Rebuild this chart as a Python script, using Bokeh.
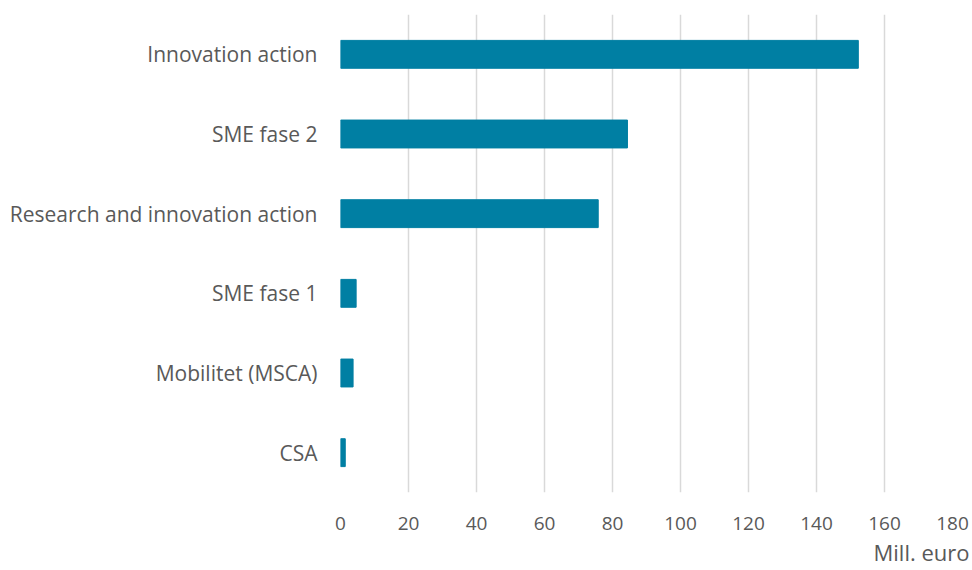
from bokeh.plotting import figure
from bokeh.models import FactorRange, Range1d, Title, FixedTicker
from bokeh.embed import file_html
from bokeh.resources import INLINE

# Data (top-to-bottom order as in the chart)
categories = ["Innovation action", "SME fase 2", "Research and innovation action",
              "SME fase 1", "Mobilitet (MSCA)", "CSA"]
values = [152.3, 84.4, 75.8, 4.6, 3.7, 1.4]
x_ticks = [0, 20, 40, 60, 80, 100, 120, 140, 160, 180]
x_unit_label = "Mill. euro"

FONT = "Open Sans"
TEXT_COLOR = "#595959"
BAR_COLOR = "#007FA3"

factors = list(reversed(categories))

p = figure(width=972, height=570, output_backend="svg", toolbar_location=None,
           y_range=FactorRange(factors=factors, range_padding=0),
           x_range=Range1d(0, 180),
           min_border_left=340, min_border_right=20,
           min_border_top=14, min_border_bottom=78)

p.hbar(y=categories, right=values, left=0, height=0.35, color=BAR_COLOR)

p.outline_line_color = None
p.background_fill_color = "white"
p.border_fill_color = "white"

p.ygrid.grid_line_color = None
p.xgrid.grid_line_color = "#d9d9d9"
p.xgrid.grid_line_width = 1.5
p.xaxis.ticker = FixedTicker(ticks=x_ticks)

for ax in (p.xaxis[0], p.yaxis[0]):
    ax.axis_line_color = None
    ax.major_tick_line_color = None
    ax.minor_tick_line_color = None
    ax.major_label_text_font = FONT
    ax.major_label_text_color = TEXT_COLOR

p.yaxis.major_label_text_font_size = "21px"
p.xaxis.major_label_text_font_size = "19px"
p.yaxis.major_label_standoff = 17
p.xaxis.major_label_standoff = 18

p.add_layout(Title(text=x_unit_label, align="right", offset=-17, standoff=4,
                   text_font=FONT, text_font_size="22px", text_font_style="normal",
                   text_color=TEXT_COLOR), "below")

open("out.html", "w").write(file_html(p, INLINE))
